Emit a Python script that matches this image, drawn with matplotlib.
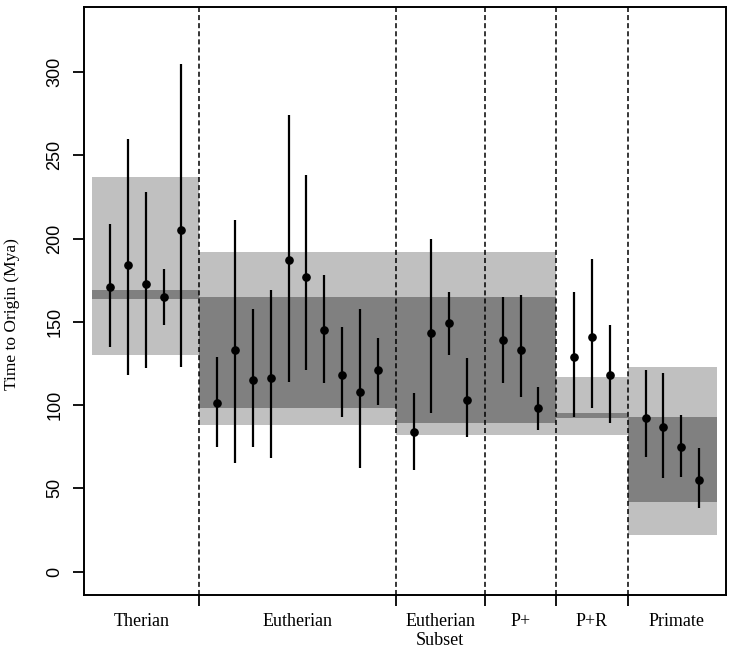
import numpy as np
import matplotlib
matplotlib.use("Agg")
import matplotlib.pyplot as plt

# groupes et points (Mya)
groups = ["Therian", "Eutherian", "Eutherian\nSubset", "P+", "P+R", "Primate"]
group_sizes = [5, 10, 4, 3, 3, 4]

est = [171, 184, 173, 165, 205,
       101, 133, 115, 116, 187, 177, 145, 118, 108, 121,
       84, 143, 149, 103,
       139, 133, 98,
       129, 141, 118,
       92, 87, 75, 55]
lower = [135, 118, 122, 148, 123,
         75, 65, 75, 68, 114, 121, 113, 93, 62, 100,
         61, 95, 130, 81,
         113, 105, 85,
         93, 98, 89,
         69, 56, 57, 38]
upper = [209, 260, 228, 182, 305,
         129, 211, 158, 169, 274, 238, 178, 147, 158, 140,
         107, 200, 168, 128,
         165, 166, 111,
         168, 188, 148,
         121, 119, 94, 74]

# bandes par groupe : intervalle large (clair) et étroit (foncé)
band_light_lo = [130, 88, 82, 82, 82, 22]
band_light_hi = [237, 192, 192, 192, 117, 123]
band_dark_lo = [164, 98, 89, 89, 92, 42]
band_dark_hi = [169, 165, 165, 165, 95, 93]

LIGHT = "#c0c0c0"
DARK = "#808080"

# positions : un emplacement vide entre les groupes
xpos, firsts, lasts = [], [], []
x = 1
for n in group_sizes:
    firsts.append(x)
    xpos.extend(range(x, x + n))
    lasts.append(x + n - 1)
    x += n + 1
xpos = np.array(xpos)

fig = plt.figure(figsize=(7.34, 6.56), dpi=100)
ax = fig.add_axes([0.1144, 0.093, 0.8746, 0.8963])
xlim = (-0.46, lasts[-1] + 1.5)

for i in range(len(groups)):
    x0, x1 = firsts[i] - 1, lasts[i] + 1
    ax.fill_between([x0, x1], band_light_lo[i], band_light_hi[i],
                    color=LIGHT, lw=0, zorder=1)
    ax.fill_between([x0, x1], band_dark_lo[i], band_dark_hi[i],
                    color=DARK, lw=0, zorder=2)

dividers = [l + 1 for l in lasts[:-1]]
for d in dividers:
    ax.axvline(d, color="black", lw=1.1, ls=(0, (3.3, 2.0)), zorder=3)

ax.vlines(xpos, lower, upper, color="black", lw=1.6, zorder=4)
ax.plot(xpos, est, "o", color="black", ms=5.2, zorder=5)

ax.set_xlim(*xlim)
ax.set_ylim(-14, 339)
ax.set_yticks(np.arange(0, 301, 50))
ax.set_yticklabels([str(v) for v in range(0, 301, 50)], rotation=90,
                   va="center", family="Liberation Sans", fontsize=13)
ax.tick_params(axis="y", length=8, width=1.3, pad=7)

ax.set_xticks(dividers)
ax.set_xticklabels([])
ax.tick_params(axis="x", length=8, width=1.3)
edges = [xlim[0]] + dividers + [xlim[1]]
for i, g in enumerate(groups):
    ax.text((edges[i] + edges[i + 1]) / 2, -0.03, g, transform=ax.get_xaxis_transform(),
            ha="center", va="top", family="Liberation Serif", fontsize=13,
            linespacing=1.15)

ax.set_ylabel("Time to Origin (Mya)", family="Liberation Serif", fontsize=12.5)
ax.yaxis.set_label_coords(-0.1, 0.478)
for s in ax.spines.values():
    s.set_linewidth(1.4)

fig.savefig("out.png", dpi=100)
